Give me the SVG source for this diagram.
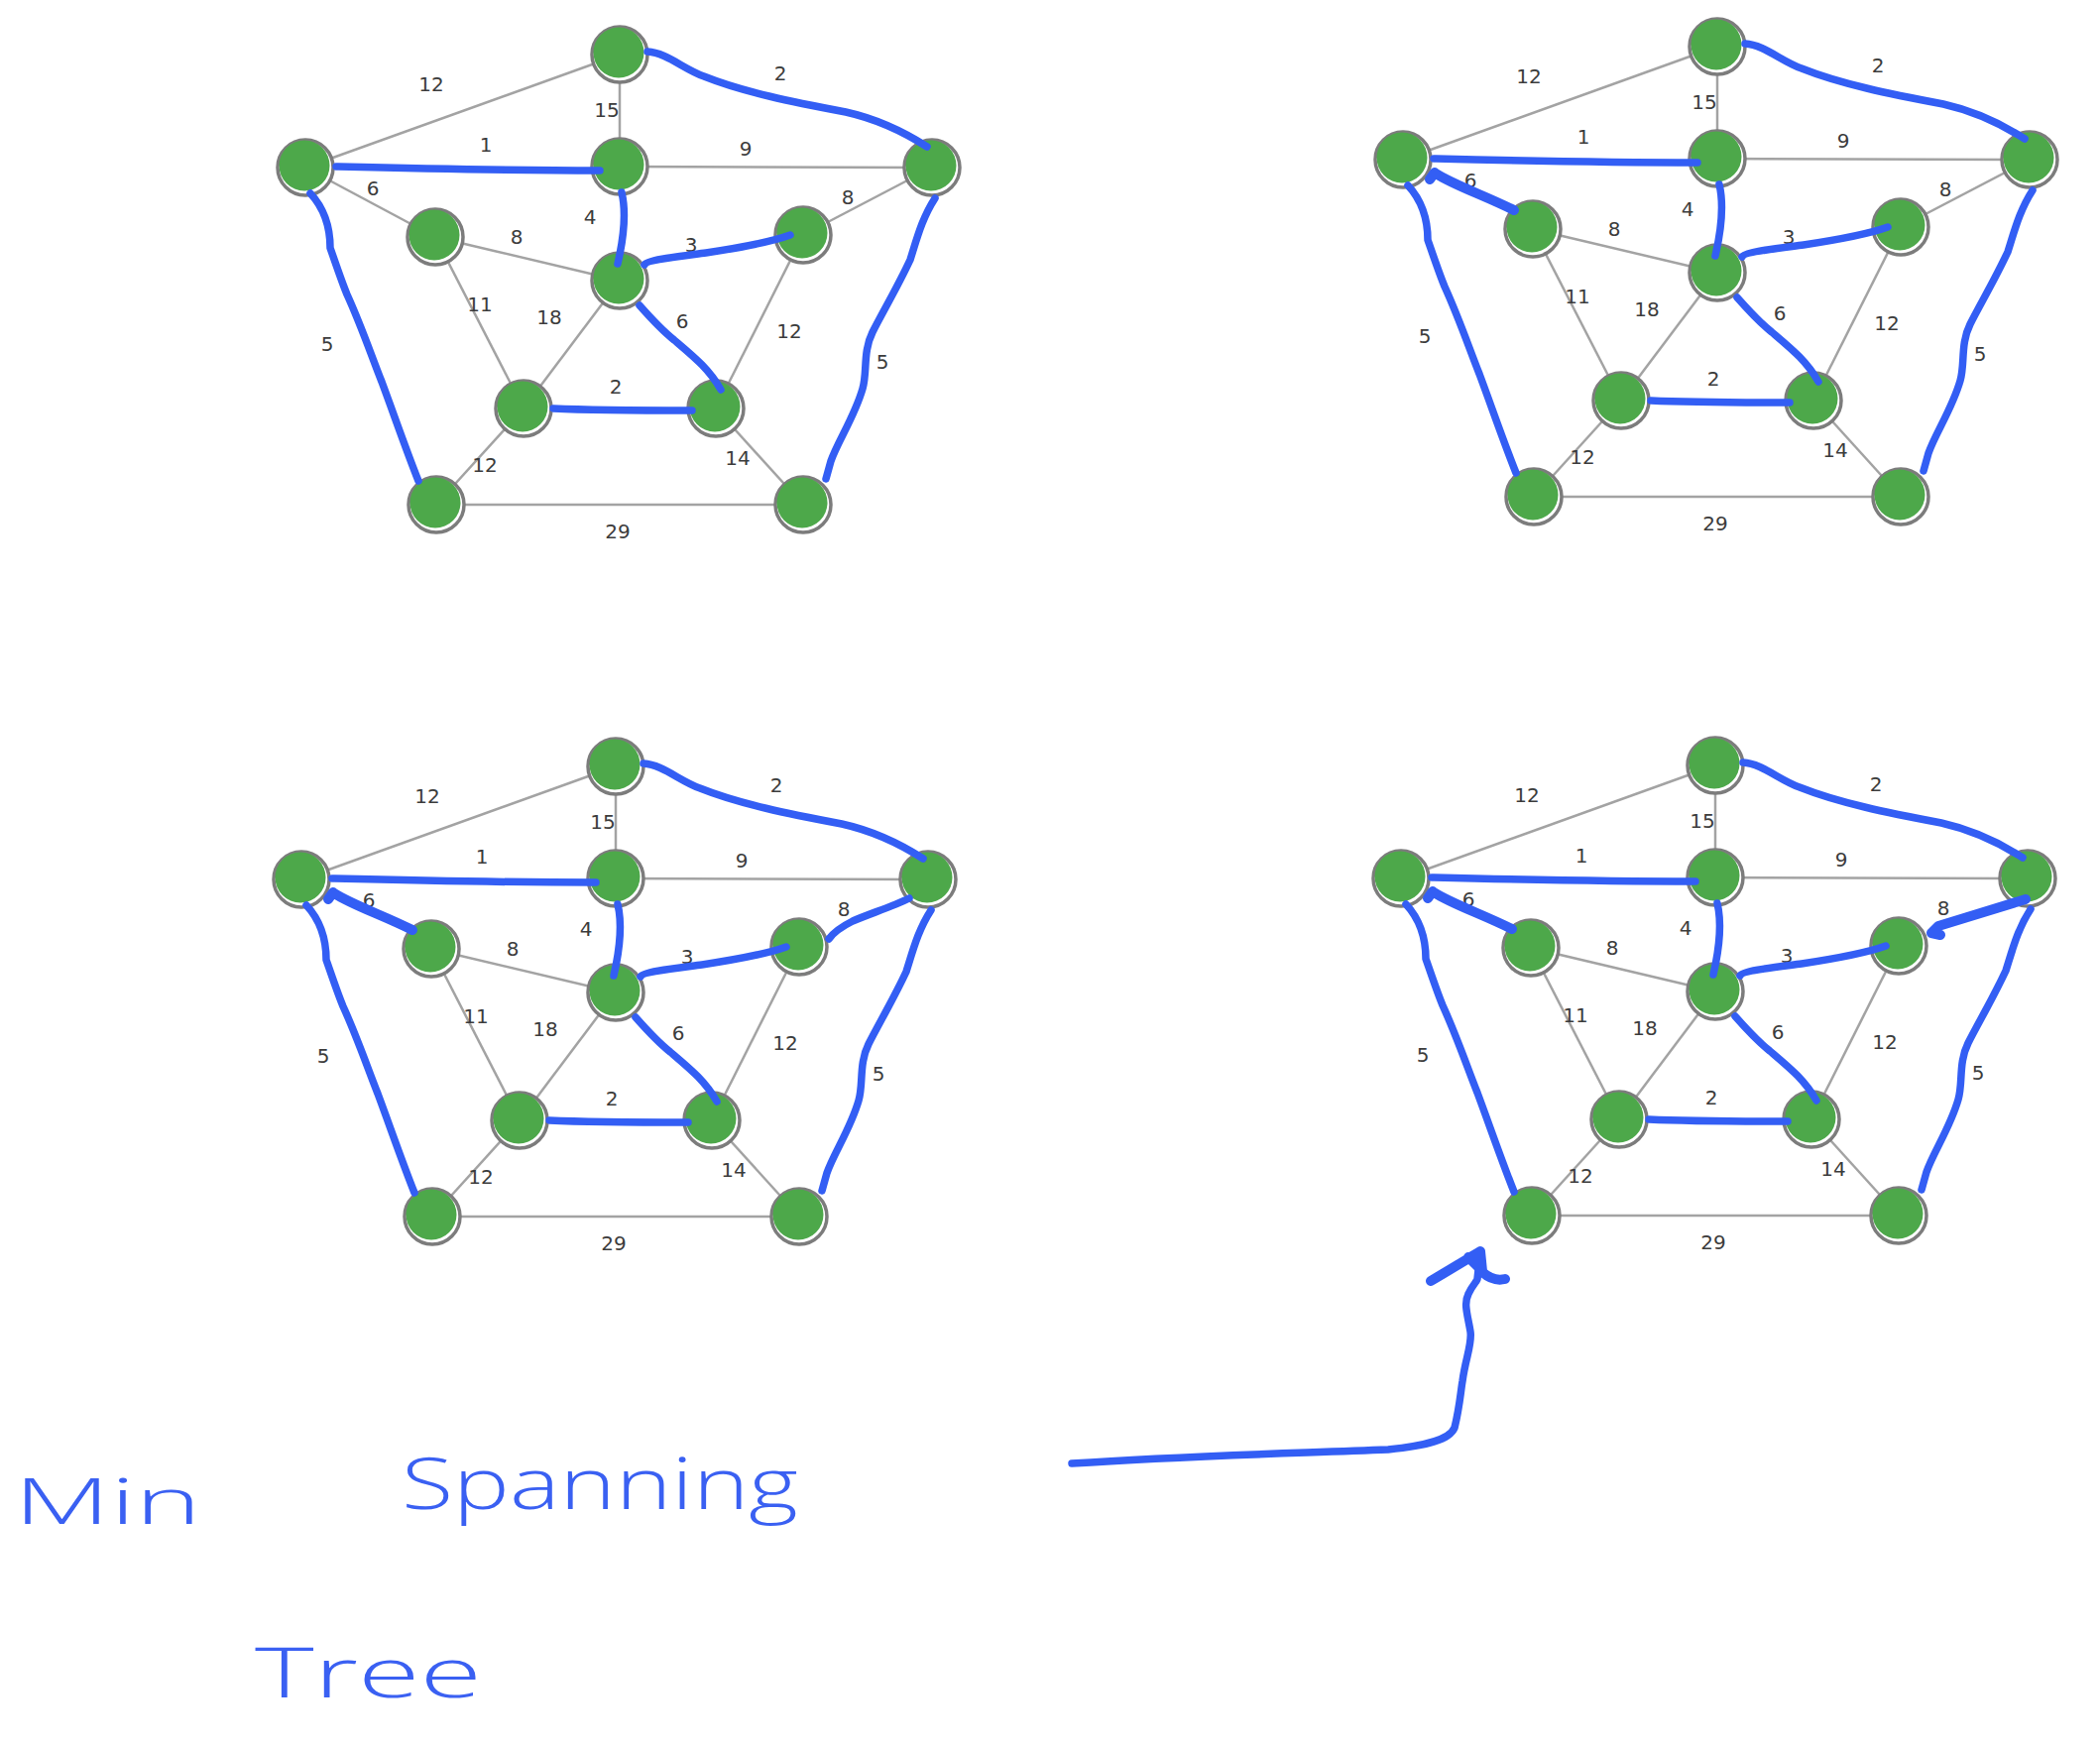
<svg xmlns="http://www.w3.org/2000/svg" width="2118" height="1762" viewBox="0 0 2118 1762">
<style>
.e{stroke:#a3a3a3;stroke-width:2.5;fill:none}
.b{stroke:#335ef4;stroke-width:7.5;fill:none;stroke-linecap:round;stroke-linejoin:round}
.bt{stroke:#335ef4;stroke-width:10;fill:none;stroke-linecap:round;stroke-linejoin:round}
.l{font-family:"DejaVu Sans",sans-serif;font-size:20px;fill:#3c3c3c;text-anchor:middle}
.hw{font-family:"Open Sans","DejaVu Sans",sans-serif;font-weight:300;fill:#3a60f2}
</style>
<defs>
<g id="nd"><circle r="28" fill="#fff" stroke="#7c7c7c" stroke-width="3.5"/><circle cx="-1" cy="-2" r="25.5" fill="#4da84a"/></g>
</defs>
<rect width="2118" height="1762" fill="#fff"/>

<!-- Graph 1 -->
<g id="graph1">
<g id="g1-edges">
<line class="e" x1="625" y1="55" x2="308" y2="169"/><line class="e" x1="625" y1="55" x2="625" y2="168"/><line class="e" x1="625" y1="168" x2="940" y2="169"/>
<line class="e" x1="308" y1="169" x2="439" y2="239"/><line class="e" x1="940" y1="169" x2="810" y2="237"/>
<line class="e" x1="439" y1="239" x2="625" y2="283"/><line class="e" x1="439" y1="239" x2="528" y2="412"/><line class="e" x1="625" y1="283" x2="528" y2="412"/><line class="e" x1="810" y1="237" x2="722" y2="412"/>
<line class="e" x1="528" y1="412" x2="440" y2="509"/><line class="e" x1="722" y1="412" x2="810" y2="509"/><line class="e" x1="440" y1="509" x2="810" y2="509"/>
</g>
<g id="g1-labels">
<text class="l" x="435" y="92">12</text><text class="l" x="612" y="118">15</text><text class="l" x="787" y="81">2</text><text class="l" x="490" y="153">1</text><text class="l" x="752" y="157">9</text>
<text class="l" x="376" y="197">6</text><text class="l" x="855" y="206">8</text><text class="l" x="595" y="226">4</text><text class="l" x="521" y="246">8</text><text class="l" x="697" y="254">3</text>
<text class="l" x="484" y="314">11</text><text class="l" x="554" y="327">18</text><text class="l" x="688" y="331">6</text><text class="l" x="796" y="341">12</text><text class="l" x="330" y="354">5</text>
<text class="l" x="890" y="372">5</text><text class="l" x="621" y="397">2</text><text class="l" x="489" y="476">12</text><text class="l" x="744" y="469">14</text><text class="l" x="623" y="543">29</text>
</g>
<g id="g1-nodes">
<g id="g1-T"><use href="#nd" x="625" y="55"/></g><g id="g1-L"><use href="#nd" x="308" y="169"/></g><g id="g1-C"><use href="#nd" x="625" y="168"/></g><g id="g1-R"><use href="#nd" x="940" y="169"/></g>
<g id="g1-IL"><use href="#nd" x="439" y="239"/></g><g id="g1-IC"><use href="#nd" x="625" y="283"/></g><g id="g1-IR"><use href="#nd" x="810" y="237"/></g>
<g id="g1-IBL"><use href="#nd" x="528" y="412"/></g><g id="g1-IBR"><use href="#nd" x="722" y="412"/></g><g id="g1-OBL"><use href="#nd" x="440" y="509"/></g><g id="g1-OBR"><use href="#nd" x="810" y="509"/></g>
</g>
<g id="g1-tree">
<path class="b" d="M653,52 C672,53 690,70 710,77 C750,93 800,103 853,113 C880,119 910,132 935,148"/>
<path class="b" d="M339,168 C420,170 500,172 605,172"/>
<path class="b" d="M627,194 C632,215 629,240 623,266"/>
<path class="b" d="M650,267 C652,262 690,258 712,255 C745,250 775,245 797,237"/>
<path class="b" d="M645,308 C660,325 670,335 680,343 C700,360 715,372 727,393"/>
<path class="b" d="M558,412 C600,414 650,414 698,414"/>
<path class="b" d="M313,195 C325,208 333,225 333,250 C340,270 345,285 350,297 C365,330 375,360 385,385 C398,420 410,455 422,485"/>
<path class="b" d="M943,200 C930,220 925,240 918,262 C905,290 890,315 880,335 C870,355 875,375 870,392 C862,420 845,445 838,465 L833,483"/>
</g>
</g>

<!-- Graph 2 -->
<g id="graph2" transform="translate(1107,-8)">
<g id="g2-edges">
<line class="e" x1="625" y1="55" x2="308" y2="169"/><line class="e" x1="625" y1="55" x2="625" y2="168"/><line class="e" x1="625" y1="168" x2="940" y2="169"/>
<line class="e" x1="940" y1="169" x2="810" y2="237"/>
<line class="e" x1="439" y1="239" x2="625" y2="283"/><line class="e" x1="439" y1="239" x2="528" y2="412"/><line class="e" x1="625" y1="283" x2="528" y2="412"/><line class="e" x1="810" y1="237" x2="722" y2="412"/>
<line class="e" x1="528" y1="412" x2="440" y2="509"/><line class="e" x1="722" y1="412" x2="810" y2="509"/><line class="e" x1="440" y1="509" x2="810" y2="509"/>
</g>
<g id="g2-labels">
<text class="l" x="435" y="92">12</text><text class="l" x="612" y="118">15</text><text class="l" x="787" y="81">2</text><text class="l" x="490" y="153">1</text><text class="l" x="752" y="157">9</text>
<text class="l" x="376" y="197">6</text><text class="l" x="855" y="206">8</text><text class="l" x="595" y="226">4</text><text class="l" x="521" y="246">8</text><text class="l" x="697" y="254">3</text>
<text class="l" x="484" y="314">11</text><text class="l" x="554" y="327">18</text><text class="l" x="688" y="331">6</text><text class="l" x="796" y="341">12</text><text class="l" x="330" y="354">5</text>
<text class="l" x="890" y="372">5</text><text class="l" x="621" y="397">2</text><text class="l" x="489" y="476">12</text><text class="l" x="744" y="469">14</text><text class="l" x="623" y="543">29</text>
</g>
<g id="g2-nodes">
<g id="g2-T"><use href="#nd" x="625" y="55"/></g><g id="g2-L"><use href="#nd" x="308" y="169"/></g><g id="g2-C"><use href="#nd" x="625" y="168"/></g><g id="g2-R"><use href="#nd" x="940" y="169"/></g>
<g id="g2-IL"><use href="#nd" x="439" y="239"/></g><g id="g2-IC"><use href="#nd" x="625" y="283"/></g><g id="g2-IR"><use href="#nd" x="810" y="237"/></g>
<g id="g2-IBL"><use href="#nd" x="528" y="412"/></g><g id="g2-IBR"><use href="#nd" x="722" y="412"/></g><g id="g2-OBL"><use href="#nd" x="440" y="509"/></g><g id="g2-OBR"><use href="#nd" x="810" y="509"/></g>
</g>
<g id="g2-tree">
<path class="b" d="M653,52 C672,53 690,70 710,77 C750,93 800,103 853,113 C880,119 910,132 935,148"/>
<path class="b" d="M339,168 C420,170 500,172 605,172"/>
<path class="b" d="M627,194 C632,215 629,240 623,266"/>
<path class="b" d="M650,267 C652,262 690,258 712,255 C745,250 775,245 797,237"/>
<path class="b" d="M645,308 C660,325 670,335 680,343 C700,360 715,372 727,393"/>
<path class="b" d="M558,412 C600,414 650,414 698,414"/>
<path class="b" d="M313,195 C325,208 333,225 333,250 C340,270 345,285 350,297 C365,330 375,360 385,385 C398,420 410,455 422,485"/>
<path class="b" d="M943,200 C930,220 925,240 918,262 C905,290 890,315 880,335 C870,355 875,375 870,392 C862,420 845,445 838,465 L833,483"/>
<path class="bt" d="M335,189 L340,182 M341,183 C360,195 390,205 420,220"/>
</g>
</g>

<!-- Graph 3 -->
<g id="graph3" transform="translate(-4,718)">
<g id="g3-edges">
<line class="e" x1="625" y1="55" x2="308" y2="169"/><line class="e" x1="625" y1="55" x2="625" y2="168"/><line class="e" x1="625" y1="168" x2="940" y2="169"/>
<line class="e" x1="439" y1="239" x2="625" y2="283"/><line class="e" x1="439" y1="239" x2="528" y2="412"/><line class="e" x1="625" y1="283" x2="528" y2="412"/><line class="e" x1="810" y1="237" x2="722" y2="412"/>
<line class="e" x1="528" y1="412" x2="440" y2="509"/><line class="e" x1="722" y1="412" x2="810" y2="509"/><line class="e" x1="440" y1="509" x2="810" y2="509"/>
</g>
<g id="g3-labels">
<text class="l" x="435" y="92">12</text><text class="l" x="612" y="118">15</text><text class="l" x="787" y="81">2</text><text class="l" x="490" y="153">1</text><text class="l" x="752" y="157">9</text>
<text class="l" x="376" y="197">6</text><text class="l" x="855" y="206">8</text><text class="l" x="595" y="226">4</text><text class="l" x="521" y="246">8</text><text class="l" x="697" y="254">3</text>
<text class="l" x="484" y="314">11</text><text class="l" x="554" y="327">18</text><text class="l" x="688" y="331">6</text><text class="l" x="796" y="341">12</text><text class="l" x="330" y="354">5</text>
<text class="l" x="890" y="372">5</text><text class="l" x="621" y="397">2</text><text class="l" x="489" y="476">12</text><text class="l" x="744" y="469">14</text><text class="l" x="623" y="543">29</text>
</g>
<g id="g3-nodes">
<g id="g3-T"><use href="#nd" x="625" y="55"/></g><g id="g3-L"><use href="#nd" x="308" y="169"/></g><g id="g3-C"><use href="#nd" x="625" y="168"/></g><g id="g3-R"><use href="#nd" x="940" y="169"/></g>
<g id="g3-IL"><use href="#nd" x="439" y="239"/></g><g id="g3-IC"><use href="#nd" x="625" y="283"/></g><g id="g3-IR"><use href="#nd" x="810" y="237"/></g>
<g id="g3-IBL"><use href="#nd" x="528" y="412"/></g><g id="g3-IBR"><use href="#nd" x="722" y="412"/></g><g id="g3-OBL"><use href="#nd" x="440" y="509"/></g><g id="g3-OBR"><use href="#nd" x="810" y="509"/></g>
</g>
<g id="g3-tree">
<path class="b" d="M653,52 C672,53 690,70 710,77 C750,93 800,103 853,113 C880,119 910,132 935,148"/>
<path class="b" d="M339,168 C420,170 500,172 605,172"/>
<path class="b" d="M627,194 C632,215 629,240 623,266"/>
<path class="b" d="M650,267 C652,262 690,258 712,255 C745,250 775,245 797,237"/>
<path class="b" d="M645,308 C660,325 670,335 680,343 C700,360 715,372 727,393"/>
<path class="b" d="M558,412 C600,414 650,414 698,414"/>
<path class="b" d="M313,195 C325,208 333,225 333,250 C340,270 345,285 350,297 C365,330 375,360 385,385 C398,420 410,455 422,485"/>
<path class="b" d="M943,200 C930,220 925,240 918,262 C905,290 890,315 880,335 C870,355 875,375 870,392 C862,420 845,445 838,465 L833,483"/>
<path class="bt" d="M335,189 L340,182 M341,183 C360,195 390,205 420,220"/>
<path class="b" d="M921,188 C905,196 880,204 864,211 C852,217 845,222 840,229"/>
</g>
</g>

<!-- Graph 4 -->
<g id="graph4" transform="translate(1105,717)">
<g id="g4-edges">
<line class="e" x1="625" y1="55" x2="308" y2="169"/><line class="e" x1="625" y1="55" x2="625" y2="168"/><line class="e" x1="625" y1="168" x2="940" y2="169"/>
<line class="e" x1="439" y1="239" x2="625" y2="283"/><line class="e" x1="439" y1="239" x2="528" y2="412"/><line class="e" x1="625" y1="283" x2="528" y2="412"/><line class="e" x1="810" y1="237" x2="722" y2="412"/>
<line class="e" x1="528" y1="412" x2="440" y2="509"/><line class="e" x1="722" y1="412" x2="810" y2="509"/><line class="e" x1="440" y1="509" x2="810" y2="509"/>
</g>
<g id="g4-labels">
<text class="l" x="435" y="92">12</text><text class="l" x="612" y="118">15</text><text class="l" x="787" y="81">2</text><text class="l" x="490" y="153">1</text><text class="l" x="752" y="157">9</text>
<text class="l" x="376" y="197">6</text><text class="l" x="855" y="206">8</text><text class="l" x="595" y="226">4</text><text class="l" x="521" y="246">8</text><text class="l" x="697" y="254">3</text>
<text class="l" x="484" y="314">11</text><text class="l" x="554" y="327">18</text><text class="l" x="688" y="331">6</text><text class="l" x="796" y="341">12</text><text class="l" x="330" y="354">5</text>
<text class="l" x="890" y="372">5</text><text class="l" x="621" y="397">2</text><text class="l" x="489" y="476">12</text><text class="l" x="744" y="469">14</text><text class="l" x="623" y="543">29</text>
</g>
<g id="g4-nodes">
<g id="g4-T"><use href="#nd" x="625" y="55"/></g><g id="g4-L"><use href="#nd" x="308" y="169"/></g><g id="g4-C"><use href="#nd" x="625" y="168"/></g><g id="g4-R"><use href="#nd" x="940" y="169"/></g>
<g id="g4-IL"><use href="#nd" x="439" y="239"/></g><g id="g4-IC"><use href="#nd" x="625" y="283"/></g><g id="g4-IR"><use href="#nd" x="810" y="237"/></g>
<g id="g4-IBL"><use href="#nd" x="528" y="412"/></g><g id="g4-IBR"><use href="#nd" x="722" y="412"/></g><g id="g4-OBL"><use href="#nd" x="440" y="509"/></g><g id="g4-OBR"><use href="#nd" x="810" y="509"/></g>
</g>
<g id="g4-tree">
<path class="b" d="M653,52 C672,53 690,70 710,77 C750,93 800,103 853,113 C880,119 910,132 935,148"/>
<path class="b" d="M339,168 C420,170 500,172 605,172"/>
<path class="b" d="M627,194 C632,215 629,240 623,266"/>
<path class="b" d="M650,267 C652,262 690,258 712,255 C745,250 775,245 797,237"/>
<path class="b" d="M645,308 C660,325 670,335 680,343 C700,360 715,372 727,393"/>
<path class="b" d="M558,412 C600,414 650,414 698,414"/>
<path class="b" d="M313,195 C325,208 333,225 333,250 C340,270 345,285 350,297 C365,330 375,360 385,385 C398,420 410,455 422,485"/>
<path class="b" d="M943,200 C930,220 925,240 918,262 C905,290 890,315 880,335 C870,355 875,375 870,392 C862,420 845,445 838,465 L833,483"/>
<path class="bt" d="M335,189 L340,182 M341,183 C360,195 390,205 420,220"/>
<path class="bt" d="M938,190 C915,197 880,208 850,217 L843,224 M843,224 L852,226"/>
</g>
</g>

<!-- Handwritten note and arrow -->
<g id="note">
<text class="hw" x="14" y="1537" font-size="64" textLength="189" lengthAdjust="spacingAndGlyphs">Min</text>
<text class="hw" x="405" y="1522" font-size="72" textLength="400" lengthAdjust="spacingAndGlyphs">Spanning</text>
<text class="hw" x="257" y="1712" font-size="70" textLength="229" lengthAdjust="spacingAndGlyphs">Tree</text>
</g>
<g id="arrow">
<path class="b" d="M1081,1476 C1200,1468 1300,1466 1400,1462 C1440,1458 1462,1452 1467,1440 C1472,1420 1473,1405 1475,1393 C1478,1370 1485,1355 1483,1343 C1480,1325 1476,1315 1481,1305 C1485,1296 1490,1292 1490,1290 L1493,1263"/>
<path class="bt" d="M1443,1292 C1460,1282 1478,1271 1493,1262 L1495,1282 L1481,1268 M1495,1283 C1503,1290 1510,1292 1518,1290"/>
</g>
</svg>
